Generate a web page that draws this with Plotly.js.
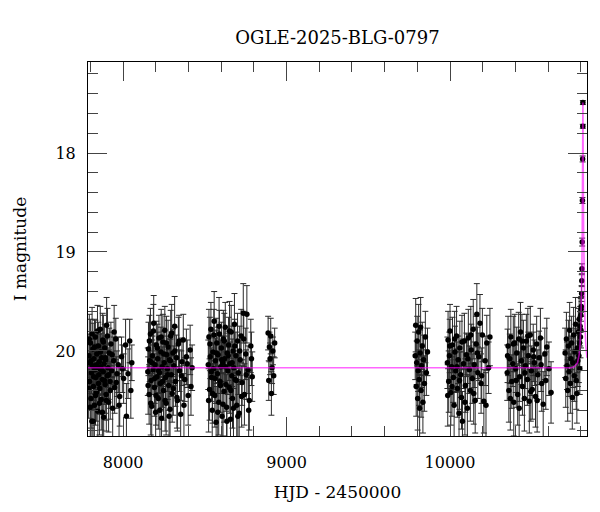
<!DOCTYPE html>
<html>
<head>
<meta charset="utf-8">
<script src="https://cdn.plot.ly/plotly-3.0.1.min.js"></script>
<style>html,body{margin:0;padding:0;background:#fff}#plot{width:600px;height:512px}</style>
</head>
<body>
<div id="plot"></div>
<script>
// Each observation: [HJD - 2450000, I magnitude, error]
const season2018 = [
[7791,20.05,0.22],[7794,20.31,0.28],[7797,20.12,0.19],[7800,19.92,0.24],[7803,20.48,0.30],[7806,20.22,0.21],[7809,20.71,0.35],[7812,20.15,0.18],[7815,19.98,0.26],[7818,20.36,0.23],
[7821,20.08,0.20],[7824,20.55,0.32],[7827,20.19,0.25],[7830,19.86,0.17],[7833,20.27,0.27],[7836,20.42,0.29],[7839,20.03,0.22],[7842,20.18,0.19],[7845,20.61,0.33],[7848,19.95,0.24],
[7851,20.24,0.21],[7854,20.11,0.28],[7857,20.38,0.26],[7860,19.78,0.23],[7863,20.16,0.20],[7866,20.49,0.31],[7869,20.07,0.25],[7872,20.29,0.18],[7875,19.89,0.27],[7878,20.21,0.22],
[7881,20.67,0.34],[7884,20.13,0.19],[7887,19.97,0.24],[7890,20.34,0.29],[7893,20.09,0.21],[7896,20.44,0.26],[7899,19.74,0.28],[7903,20.25,0.23],[7907,20.17,0.20],[7911,20.52,0.30],
[7915,20.02,0.25],[7920,20.31,0.27],[7925,19.93,0.22],[7930,20.20,0.19],[7936,20.58,0.32],[7942,20.10,0.24],[7948,20.37,0.26],[7955,19.88,0.21],[7962,20.23,0.23],[7970,20.14,0.28],
[7979,20.46,0.30],[7990,20.06,0.20],[8003,20.28,0.25],[8020,20.66,0.33],[8040,19.90,0.22],[8053,20.12,0.18]
];
const season2018b = [
[7789,20.38,0.30],[7793,19.88,0.25],[7799,20.57,0.33],[7804,20.10,0.22],[7810,19.83,0.27],[7816,20.71,0.31],[7820,20.26,0.24],[7825,19.96,0.28],[7831,20.45,0.30],[7837,20.14,0.21],
[7843,19.80,0.26],[7849,20.33,0.29],[7855,20.53,0.32],[7861,20.01,0.23],[7867,20.19,0.25],[7873,20.62,0.34],[7879,19.91,0.27],[7885,20.30,0.24],[7891,20.07,0.22],[7897,20.50,0.31],
[7904,19.85,0.28],[7912,20.24,0.25],[7921,20.40,0.29],[7933,20.04,0.23],[7945,19.81,0.27],[7958,20.32,0.26],[7975,20.55,0.32],[7995,20.18,0.24],[8015,19.94,0.26],[8030,20.23,0.25],[8047,20.40,0.28]
];
const season2019 = [
[8151,20.21,0.24],[8155,19.98,0.27],[8159,20.44,0.30],[8163,20.10,0.21],[8167,19.83,0.26],[8171,20.30,0.23],[8175,20.56,0.33],[8179,20.05,0.20],[8183,20.19,0.25],[8187,19.72,0.28],
[8191,20.37,0.29],[8195,20.14,0.22],[8199,20.62,0.34],[8203,19.94,0.24],[8207,20.26,0.19],[8211,20.08,0.27],[8215,20.48,0.31],[8219,19.87,0.23],[8223,20.22,0.21],[8227,20.33,0.26],
[8231,20.01,0.25],[8235,20.68,0.35],[8239,20.16,0.20],[8243,19.91,0.28],[8247,20.40,0.30],[8251,20.12,0.22],[8255,19.79,0.24],[8259,20.27,0.26],[8263,20.53,0.32],[8267,20.04,0.19],
[8271,20.18,0.23],[8275,19.96,0.27],[8279,20.35,0.25],[8283,20.09,0.21],[8287,20.59,0.33],[8291,19.85,0.26],[8295,20.24,0.22],[8300,20.43,0.29],[8305,20.02,0.24],[8310,20.15,0.20],
[8315,19.75,0.30],[8320,20.31,0.25],[8326,20.07,0.23],[8332,20.50,0.31],[8338,19.93,0.27],[8345,20.20,0.21],[8352,20.64,0.34],[8360,20.11,0.24],[8368,19.89,0.26],[8377,20.29,0.22],
[8387,20.06,0.28],[8398,20.45,0.30],[8410,19.99,0.25],[8422,20.17,0.23]
];
const season2019b = [
[8153,20.35,0.29],[8161,19.90,0.26],[8169,20.53,0.32],[8177,20.12,0.23],[8185,19.80,0.27],[8193,20.28,0.25],[8201,20.45,0.30],[8209,19.97,0.24],[8217,20.20,0.22],[8225,20.60,0.33],
[8233,19.86,0.28],[8241,20.31,0.26],[8249,20.03,0.23],[8257,20.50,0.31],[8265,19.92,0.27],[8273,20.24,0.25],[8281,20.66,0.35],[8289,20.10,0.22],[8297,19.82,0.29],[8307,20.38,0.27],
[8317,20.00,0.24],[8329,20.47,0.31],[8342,19.90,0.26],[8356,20.25,0.25],[8372,20.55,0.32],[8392,20.13,0.24],[8415,20.36,0.29]
];
const season2020 = [
[8521,20.14,0.25],[8525,19.86,0.28],[8529,20.39,0.31],[8533,20.06,0.22],[8537,19.78,0.27],[8541,20.27,0.24],[8545,20.60,0.35],[8549,20.01,0.21],[8553,20.18,0.26],[8557,19.70,0.30],
[8561,20.45,0.32],[8565,20.10,0.23],[8569,20.72,0.36],[8573,19.92,0.25],[8577,20.23,0.20],[8581,20.04,0.28],[8585,20.52,0.33],[8589,19.83,0.24],[8593,20.31,0.22],[8597,20.16,0.27],
[8601,19.97,0.26],[8605,20.66,0.35],[8609,20.12,0.21],[8613,19.88,0.29],[8617,20.41,0.31],[8621,20.08,0.23],[8625,19.76,0.25],[8629,20.34,0.27],[8633,20.57,0.33],[8637,20.02,0.20],
[8641,20.20,0.24],[8645,19.94,0.28],[8649,20.37,0.26],[8653,20.13,0.22],[8657,20.69,0.35],[8661,19.81,0.27],[8665,20.25,0.23],[8669,20.48,0.30],[8673,20.00,0.25],[8677,20.17,0.21],
[8681,19.73,0.31],[8685,20.29,0.26],[8690,20.05,0.24],[8695,20.55,0.32],[8700,19.90,0.28],[8705,20.22,0.22],[8710,20.63,0.34],[8716,20.09,0.25],[8722,19.85,0.27],[8728,20.32,0.23],
[8735,19.62,0.30],[8742,20.44,0.31],[8750,20.03,0.26],[8757,19.63,0.29],[8764,20.19,0.24],[8772,20.50,0.30],[8781,19.95,0.27],[8790,20.26,0.25]
];
const season2020b = [
[8523,20.50,0.32],[8531,19.93,0.27],[8539,20.21,0.24],[8547,20.43,0.30],[8555,19.84,0.26],[8563,20.28,0.25],[8571,20.02,0.23],[8579,20.62,0.34],[8587,19.75,0.29],[8595,20.35,0.27],
[8603,20.09,0.24],[8611,20.54,0.32],[8619,19.90,0.28],[8627,20.16,0.23],[8635,20.71,0.36],[8643,20.05,0.25],[8651,19.80,0.30],[8659,20.40,0.29],[8667,20.12,0.24],[8675,20.58,0.33],
[8683,19.95,0.27],[8692,20.30,0.26],[8702,20.66,0.35],[8713,20.00,0.25],[8725,20.46,0.31],[8738,19.88,0.28],[8753,20.24,0.25],[8768,20.60,0.33],[8785,20.08,0.27]
];
const season2020c = [
[8887,19.82,0.17],[8891,20.30,0.20],[8895,19.96,0.15],[8899,20.08,0.16],[8903,19.85,0.18],[8907,20.43,0.22],[8911,20.17,0.16],[8916,20.00,0.14],[8921,20.25,0.19],[8927,19.92,0.15]
];
const season2022 = [
[9787,20.05,0.24],[9790,19.74,0.27],[9793,20.36,0.30],[9796,20.12,0.22],[9799,19.90,0.25],[9802,20.48,0.32],[9805,20.20,0.21],[9808,19.81,0.28],[9811,20.29,0.26],[9814,20.58,0.34],
[9817,20.02,0.23],[9820,19.76,0.30],[9823,20.40,0.27],[9826,20.15,0.22],[9830,19.95,0.24],[9834,20.52,0.31],[9838,20.09,0.25],[9843,20.33,0.28],[9849,19.86,0.26],[9855,20.22,0.23],[9862,20.01,0.24]
];
const season2023 = [
[9984,20.12,0.26],[9988,19.89,0.29],[9992,20.31,0.31],[9996,20.05,0.24],[10000,19.80,0.27],[10005,20.42,0.33],[10010,20.16,0.23],[10015,19.94,0.28],[10020,20.27,0.25],[10025,20.55,0.35],
[10030,20.01,0.26],[10035,20.20,0.22],[10040,19.85,0.30],[10045,20.38,0.29],[10050,20.09,0.24],[10055,20.63,0.36],[10060,19.97,0.27],[10065,20.24,0.23],[10070,20.47,0.32],[10076,20.71,0.30],
[10082,20.13,0.25],[10088,19.90,0.28],[10094,20.35,0.27],[10100,20.04,0.22],[10106,20.58,0.34],[10112,19.87,0.29],[10118,20.19,0.24],[10124,20.40,0.31],[10130,19.99,0.26],[10136,20.28,0.25],
[10142,19.78,0.30],[10148,20.14,0.23],[10154,20.50,0.33],[10160,19.93,0.28],[10164,19.63,0.31],[10170,20.22,0.26],[10176,20.06,0.24],[10183,19.72,0.29],[10190,20.33,0.30],[10198,19.84,0.27],
[10207,20.51,0.32],[10215,20.10,0.25],[10225,19.92,0.28],[10236,20.17,0.26],[10244,19.86,0.29]
];
const season2023b = [
[9986,20.45,0.31],[9998,19.95,0.27],[10012,20.36,0.30],[10028,19.88,0.28],[10042,20.16,0.25],[10058,20.30,0.29],[10073,19.91,0.27],[10091,20.52,0.33],[10109,20.08,0.25],[10127,19.84,0.29],
[10145,20.43,0.31],[10167,20.02,0.26],[10194,20.25,0.28],[10220,20.55,0.33]
];
const season2024 = [
[10350,20.22,0.28],[10355,19.95,0.30],[10360,20.40,0.32],[10366,20.08,0.25],[10372,19.86,0.28],[10378,20.31,0.27],[10384,20.13,0.23],[10390,20.52,0.34],[10396,19.92,0.29],[10402,20.18,0.24],
[10408,20.02,0.26],[10414,20.44,0.31],[10420,19.88,0.27],[10426,20.26,0.25],[10431,19.81,0.30],[10437,20.10,0.24],[10443,20.36,0.29],[10449,19.97,0.28],[10455,20.48,0.33],[10461,20.15,0.23],
[10467,19.90,0.27],[10473,20.29,0.26],[10479,20.05,0.24],[10485,20.51,0.32],[10491,19.84,0.29],[10497,20.20,0.25],[10503,20.39,0.30],[10509,19.99,0.26],[10516,20.12,0.23],[10523,20.46,0.31],
[10530,19.93,0.28],[10537,20.24,0.25],[10545,20.07,0.27],[10553,19.87,0.30],[10561,20.33,0.28],[10570,20.54,0.33],[10580,20.03,0.26],[10592,19.96,0.29],[10605,20.18,0.27],[10618,20.42,0.31]
];
const season2024b = [
[10352,20.05,0.27],[10369,20.48,0.32],[10387,19.93,0.28],[10405,20.30,0.27],[10423,20.58,0.33],[10440,19.90,0.27],[10458,20.22,0.26],[10476,19.85,0.28],[10494,20.41,0.30],[10512,20.06,0.25],
[10533,20.50,0.32],[10557,20.14,0.27],[10586,20.30,0.29]
];
const season2025 = [
[10704,20.02,0.25],[10708,20.28,0.29],[10712,19.88,0.27],[10716,20.15,0.24],[10720,20.40,0.31],[10724,19.95,0.26],[10728,20.21,0.25],[10732,19.79,0.28],[10736,20.33,0.30],[10740,20.08,0.23],
[10744,19.92,0.27],[10748,20.47,0.32],[10752,20.12,0.25],[10756,19.84,0.28],[10760,20.25,0.26],[10764,20.01,0.24],[10768,19.73,0.27],[10772,20.30,0.29],[10776,20.43,0.30],[10779,19.97,0.25],
[10782,20.10,0.26],[10785,19.81,0.24],[10788,20.05,0.27],[10790,19.68,0.22],[10792,19.92,0.24],[10794,20.18,0.26],[10796,19.75,0.20],[10798,19.86,0.21],[10800,19.64,0.17],[10801,19.79,0.18],
[10802,19.58,0.12],[10803,19.55,0.10],[10805,19.42,0.08],[10806,19.29,0.06],[10807,19.17,0.05],[10808.5,18.90,0.04],[10810,18.48,0.03],[10811.3,18.06,0.03],[10812.3,17.73,0.02],[10812.8,17.49,0.02]
];
// Model light curve (magenta)
const modelHjd = [7785, 10740, 10760, 10780, 10790, 10795, 10800, 10804, 10807, 10809, 10811, 10812, 10813, 10814, 10815, 10817, 10819, 10822, 10826, 10831, 10836, 10838];
const modelMag = [20.17, 20.17, 20.16, 20.12, 20.04, 19.95, 19.77, 19.49, 19.14, 18.76, 18.16, 17.75, 17.49, 17.75, 18.16, 18.76, 19.14, 19.49, 19.77, 19.95, 20.04, 20.07];

const chartTitle = 'OGLE-2025-BLG-0797';
const xLabel = 'HJD - 2450000';
const yLabel = 'I magnitude';

const all = [].concat(season2018, season2018b, season2019, season2019b, season2020, season2020b, season2020c,
  season2022, season2023, season2023b, season2024, season2024b, season2025);
const hjd = all.map(p => p[0]);
const mag = all.map(p => p[1]);
const err = all.map(p => p[2]);

const FONT = 'DejaVu Serif, serif';
const data = [
  {
    type: 'scatter', mode: 'markers', x: hjd, y: mag,
    marker: {color: '#000', size: 5.5},
    error_y: {type: 'data', array: err, visible: true, color: '#2a2a2a', thickness: 1, width: 3},
    hoverinfo: 'skip'
  },
  {
    type: 'scatter', mode: 'lines', x: modelHjd, y: modelMag,
    line: {color: 'rgba(255,0,255,0.6)', width: 1.6},
    hoverinfo: 'skip'
  }
];
const axisCommon = {
  showgrid: false, zeroline: false, showline: true, linecolor: '#000', linewidth: 1,
  mirror: 'allticks', ticks: 'inside', ticklen: 19, tickcolor: '#444', tickwidth: 1,
  tickfont: {family: FONT, size: 16, color: '#000'}
};
const layout = {
  width: 600, height: 512,
  margin: {l: 88, r: 13, t: 62, b: 76},
  paper_bgcolor: '#fff', plot_bgcolor: '#fff',
  showlegend: false,
  font: {family: FONT, color: '#000'},
  title: {text: chartTitle, font: {family: FONT, size: 18, color: '#000'}, x: 0.5, xref: 'paper', y: 1 - 38/512, yref: 'container', yanchor: 'middle'},
  xaxis: Object.assign({}, axisCommon, {
    range: [7785, 10838], dtick: 1000, tick0: 0, tickformat: 'd', ticklabelstandoff: 12,
    minor: {dtick: 200, ticks: 'inside', ticklen: 10, tickcolor: '#444', tickwidth: 1},
    title: {text: xLabel, font: {family: FONT, size: 17, color: '#000'}, standoff: 14}
  }),
  yaxis: Object.assign({}, axisCommon, {
    range: [20.86, 17.08], dtick: 1, tick0: 0, ticklabelstandoff: 8,
    minor: {dtick: 0.2, ticks: 'inside', ticklen: 10, tickcolor: '#444', tickwidth: 1},
    title: {text: yLabel, font: {family: FONT, size: 17, color: '#000'}, standoff: 24}
  })
};
Plotly.newPlot('plot', data, layout, {staticPlot: true, displayModeBar: false});
</script>
</body>
</html>
